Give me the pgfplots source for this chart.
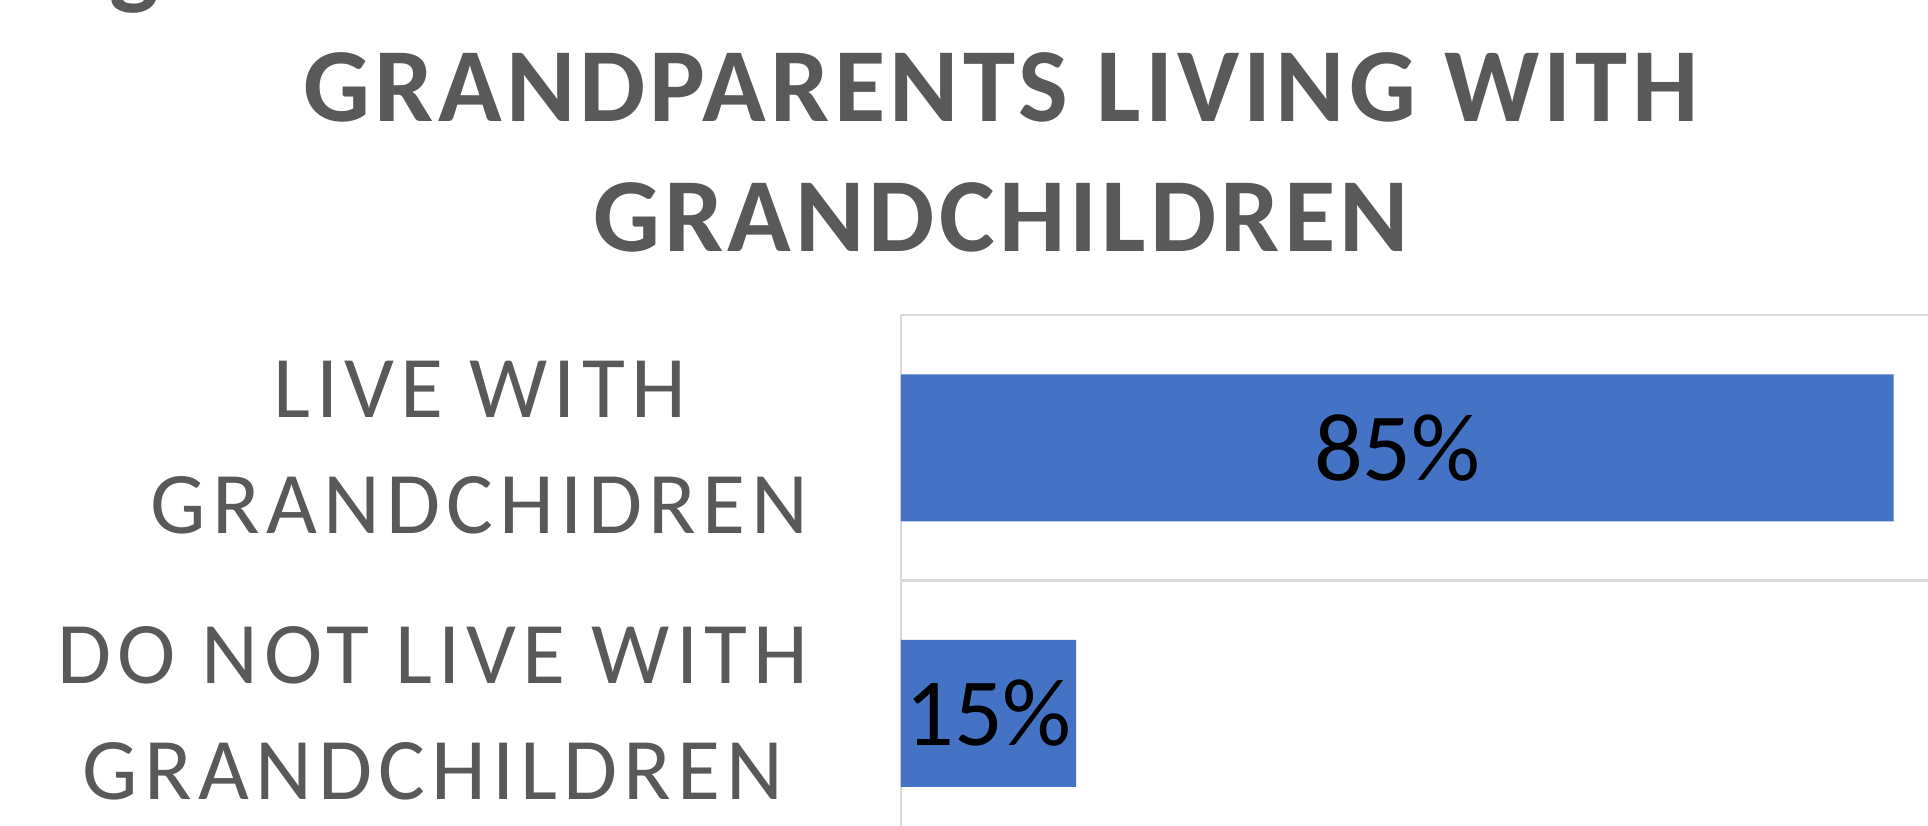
\documentclass[border=0pt]{standalone}
\usepackage{fontspec}
\setmainfont{Carlito}
\newfontfamily\lblfont[LetterSpace=7]{Carlito}
\newfontfamily\ttlfont[LetterSpace=4]{Carlito}
\usepackage{pgfplots}
\pgfplotsset{compat=1.18}
\definecolor{barblue}{HTML}{4472C4}
\definecolor{txtgray}{HTML}{595959}
\definecolor{gridgray}{HTML}{D9D9D9}
\begin{document}
\begin{tikzpicture}[x=1cm,y=1cm]
\begin{axis}[
  at={(9.01cm,-0.21cm)}, anchor=south west,
  scale only axis, width=10.51cm, height=5.31cm,
  xbar, xmin=0, xmax=90,
  ymin=-0.5, ymax=1.5,
  bar width=1.47cm,
  axis x line=none,
  axis y line*=left,
  y axis line style={gridgray, line width=0.6pt},
  ytick={0,1},
  yticklabels={{DO NOT LIVE WITH\\GRANDCHILDREN},{LIVE WITH\\GRANDCHIDREN}},
  yticklabel style={align=center, font=\lblfont\fontsize{25}{32.9}\selectfont, text=txtgray, inner sep=0pt, xshift=-0.92cm},
  major tick length=0pt,
  extra y ticks={-0.5,0.5,1.5},
  extra y tick labels={},
  extra y tick style={grid=major, major grid style={gridgray, line width=0.6pt}},
  clip=false,
  visualization depends on={rawx \as \rawx},
  nodes near coords={\pgfmathprintnumber[assume math mode=true]{\pgfplotspointmeta}\%},
  point meta=x,
  nodes near coords style={anchor=center, text=black, font=\fontsize{27.4}{30}\selectfont, shift={(axis direction cs:-\rawx/2,0)}},
]
\addplot[fill=barblue, draw=none] coordinates {(15,0) (85,1)};
\end{axis}
\node[anchor=base, text=txtgray, font=\ttlfont\bfseries\fontsize{29.9}{36}\selectfont] at (10.01,7.033) {GRANDPARENTS LIVING WITH};
\node[anchor=base, text=txtgray, font=\ttlfont\bfseries\fontsize{29.9}{36}\selectfont] at (10.01,5.73) {GRANDCHILDREN};
\node[anchor=base, text=txtgray, font=\ttlfont\bfseries\fontsize{29.9}{36}\selectfont] at (1.34,8.29) {g};
\pgfresetboundingbox
\useasboundingbox (0,0) rectangle (19.28,8.25);
\end{tikzpicture}
\end{document}
